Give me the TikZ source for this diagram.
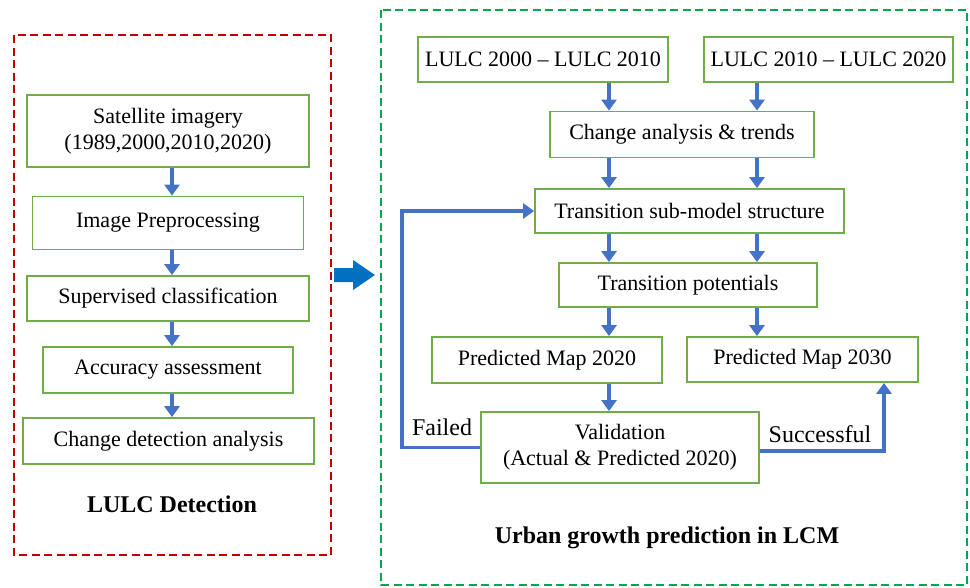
\documentclass[tikz,border=0pt]{standalone}
\usepackage{fontspec}
\setmainfont{Liberation Serif}
\usetikzlibrary{arrows.meta}
\definecolor{boxgreen}{RGB}{112,173,71}
\definecolor{flowblue}{RGB}{68,114,196}
\definecolor{framered}{RGB}{192,0,0}
\definecolor{framegreen}{RGB}{0,168,80}
\definecolor{bigblue}{RGB}{0,112,192}
\begin{document}
\begin{tikzpicture}[x=1pt, y=-1pt,
  box/.style={draw=boxgreen, line width=1.8pt, fill=white, inner sep=0pt, align=center, font=\fontsize{22}{26}\selectfont},
  flow/.style={draw=flowblue, line width=3.5pt, -{Triangle[length=11pt, width=15pt]}},
  frame/.style={line width=2.5pt, dash pattern=on 8pt off 4.5pt},
  heading/.style={font=\bfseries\fontsize{24}{28}\selectfont},
  tag/.style={font=\fontsize{24}{28}\selectfont}]
\useasboundingbox (0,0) rectangle (970,587);

% frames
\draw[frame, draw=framered] (14,35) rectangle (331,555);
\draw[frame, draw=framegreen] (381,10) rectangle (967,585);

% LULC detection
\node[box, minimum width=282pt, minimum height=72pt] (sat) at (168,131) {Satellite imagery\\(1989,2000,2010,2020)};
\node[box, minimum width=271pt, minimum height=53pt] (pre) at (168,223) {Image Preprocessing};
\node[box, minimum width=282pt, minimum height=45pt] (sup) at (168,298.5) {Supervised classification};
\node[box, minimum width=250pt, minimum height=46pt] (acc) at (168,370) {Accuracy assessment};
\node[box, minimum width=291pt, minimum height=46pt] (cda) at (168.5,441) {Change detection analysis};
\node[heading] (lulcdet) at (172,504) {LULC Detection};

\coordinate (lcol) at (172,0);
\foreach \a/\b in {sat/pre, pre/sup, sup/acc, acc/cda}
  \draw[flow] (lcol |- \a.south) -- (lcol |- \b.north);

% big arrow between the frames
\fill[bigblue] (334,268) -- (353,268) -- (353,260) -- (375,275) -- (353,290) -- (353,282) -- (334,282) -- cycle;

% urban growth prediction
\node[box, minimum width=250pt, minimum height=45pt] (lulca) at (543,59.5) {LULC 2000 -- LULC 2010};
\node[box, minimum width=249pt, minimum height=45pt] (lulcb) at (828.5,59.5) {LULC 2010 -- LULC 2020};
\node[box, minimum width=264pt, minimum height=46pt] (change) at (682,134.5) {Change analysis \& trends};
\node[box, minimum width=309pt, minimum height=44pt] (trans) at (689.5,211) {Transition sub-model structure};
\node[box, minimum width=258pt, minimum height=44pt] (pot) at (688,285) {Transition potentials};
\node[box, minimum width=230pt, minimum height=46pt] (pmap20) at (547,360) {Predicted Map 2020};
\node[box, minimum width=231pt, minimum height=45pt] (pmap30) at (802.5,359.5) {Predicted Map 2030};
\node[box, minimum width=278pt, minimum height=71pt] (valid) at (620,447.5) {Validation\\(Actual \& Predicted 2020)};
\node[heading] (ugp) at (667,538) {Urban growth prediction in LCM};
\node[tag] (failed) at (442,427) {Failed};
\node[tag] (success) at (820,434) {Successful};

\coordinate (cola) at (609,0);
\coordinate (colb) at (757,0);
\draw[flow] (cola |- lulca.south) -- (cola |- change.north);
\draw[flow] (colb |- lulcb.south) -- (colb |- change.north);
\draw[flow] (cola |- change.south) -- (cola |- trans.north);
\draw[flow] (colb |- change.south) -- (colb |- trans.north);
\draw[flow] (cola |- trans.south) -- (cola |- pot.north);
\draw[flow] (colb |- trans.south) -- (colb |- pot.north);
\draw[flow] (cola |- pot.south) -- (cola |- pmap20.north);
\draw[flow] (colb |- pot.south) -- (colb |- pmap30.north);
\draw[flow] (cola |- pmap20.south) -- (cola |- valid.north);

% feedback and success
\coordinate (back) at (402,0);
\coordinate (ahead) at (884,0);
\draw[flow] (valid.west) -| (back |- trans.west) -- (trans.west);
\draw[flow] ([yshift=-3.5pt]valid.east) -| (ahead |- pmap30.south);
\end{tikzpicture}
\end{document}
